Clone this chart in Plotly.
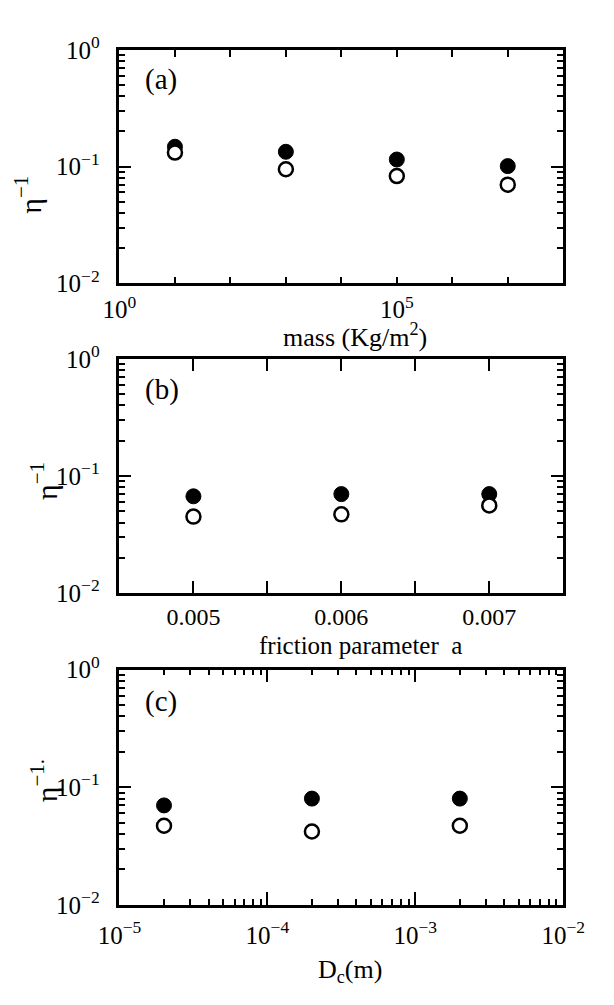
import plotly.graph_objects as go

# ---- data ----
mass = [1e1, 1e3, 1e5, 1e7]
a_filled = [0.148, 0.134, 0.115, 0.101]
a_open = [0.132, 0.095, 0.083, 0.070]

friction = [0.005, 0.006, 0.007]
b_filled = [0.067, 0.070, 0.070]
b_open = [0.045, 0.047, 0.056]

dc = [2e-5, 2e-4, 2e-3]
c_filled = [0.070, 0.080, 0.080]
c_open = [0.047, 0.042, 0.047]

y_tickvals = [0.01, 0.1, 1]
y_ticktext = ["10<sup>−2</sup>", "10<sup>−1</sup>", "10<sup>0</sup>"]

a_x_vals = [10 ** e for e in range(0, 9)]
a_x_text = ["10<sup>0</sup>", "", "", "", "", "10<sup>5</sup>", "", "", ""]
b_x_vals = [0.0045, 0.005, 0.0055, 0.006, 0.0065, 0.007, 0.0075]
b_x_text = ["", "0.005", "", "0.006", "", "0.007", ""]
c_x_vals = [1e-5, 1e-4, 1e-3, 1e-2]
c_x_text = ["10<sup>−5</sup>", "10<sup>−4</sup>", "10<sup>−3</sup>", "10<sup>−2</sup>"]

W, H = 614, 1005
FONT = "Liberation Serif"
TICKSIZE = 25

fig = go.Figure()

panels = [
    (mass, a_filled, a_open, "x", "y"),
    (friction, b_filled, b_open, "x2", "y2"),
    (dc, c_filled, c_open, "x3", "y3"),
]
for xs, fy, oy, xa, ya in panels:
    fig.add_trace(go.Scatter(x=xs, y=fy, mode="markers", xaxis=xa, yaxis=ya,
                             marker=dict(symbol="circle", size=15, color="black",
                                         line=dict(color="black", width=1)),
                             showlegend=False, cliponaxis=False))
    fig.add_trace(go.Scatter(x=xs, y=oy, mode="markers", xaxis=xa, yaxis=ya,
                             marker=dict(symbol="circle", size=14, color="white",
                                         line=dict(color="black", width=2.5)),
                             showlegend=False, cliponaxis=False))

xdom = [105 / W, 583 / W]
def ydom(top, bot):
    return [1 - bot / H, 1 - top / H]

minor_log_y = [m * 10 ** e for e in (-2, -1) for m in range(2, 10)]
c_minor = [m * 10 ** e for e in (-5, -4, -3) for m in range(2, 10)]

def base(ticklen):
    return dict(showline=True, linecolor="black", linewidth=2.5, mirror="ticks",
                ticks="inside", ticklen=ticklen, tickwidth=2.2, tickcolor="black",
                showgrid=False, zeroline=False,
                tickfont=dict(family=FONT, size=TICKSIZE, color="black"))

def minor(vals):
    return dict(ticks="inside", ticklen=6, tickwidth=2, tickcolor="black",
                tickmode="array", tickvals=vals, showgrid=False)

yax = dict(base(12), type="log", range=[-2, 0], tickmode="array",
           tickvals=y_tickvals, ticktext=y_ticktext, ticklabelstandoff=12,
           minor=minor(minor_log_y))

fig.update_layout(
    width=W, height=H, margin=dict(l=0, r=0, t=0, b=0),
    paper_bgcolor="white", plot_bgcolor="white",
    font=dict(family=FONT, color="black"),
    xaxis=dict(base(7), type="log", range=[0, 8], domain=xdom, anchor="y",
               tickmode="array", tickvals=a_x_vals, ticktext=a_x_text, ticklabelstandoff=2),
    yaxis=dict(yax, domain=ydom(33, 274), anchor="x"),
    xaxis2=dict(base(12), type="linear", range=[0.0045, 0.0075], domain=xdom, anchor="y2",
                tickmode="array", tickvals=b_x_vals, ticktext=b_x_text, ticklabelstandoff=0,
                tickfont=dict(family=FONT, size=24, color="black")),
    yaxis2=dict(yax, domain=ydom(352, 594), anchor="x2"),
    xaxis3=dict(base(13), type="log", range=[-5, -2], domain=xdom, anchor="y3",
                tickmode="array", tickvals=c_x_vals, ticktext=c_x_text, ticklabelstandoff=6,
                minor=minor(c_minor)),
    yaxis3=dict(yax, domain=ydom(673, 916), anchor="x3"),
)

def ann(text, px, py, size, angle=0, xanchor="center"):
    fig.add_annotation(text=text, x=px / W, y=1 - py / H, xref="paper", yref="paper",
                       showarrow=False, textangle=angle, xanchor=xanchor, yanchor="middle",
                       borderpad=0, font=dict(family=FONT, size=size, color="black"))

# panel labels
ann("(a)", 131, 64, 29, xanchor="left")
ann("(b)", 131, 384, 29, xanchor="left")
ann("(c)", 131, 706, 29, xanchor="left")
# y titles
ann("η<sup>−1</sup>", 7, 182, 30, angle=-90)
ann("η<sup>−1</sup>", 24, 478, 30, angle=-90)
ann("η<sup>−1.</sup>", 24, 788, 30, angle=-90)
# x titles
ann("mass (Kg/m<sup>2</sup>)", 359, 328, 26)
ann("friction parameter  a", 365, 648, 25)
ann("D<sub>c</sub>(m)", 353, 984, 26)

fig.write_html("out.html")
